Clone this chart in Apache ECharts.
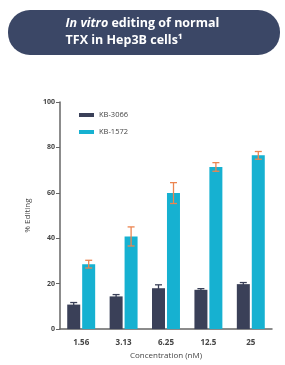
<!DOCTYPE html>
<html>
<head>
<meta charset="utf-8">
<script src="https://cdn.jsdelivr.net/npm/echarts@6/dist/echarts.min.js"></script>
<style>
  html, body { margin: 0; padding: 0; background: #fff; }
  #chart { width: 285px; height: 365px; }
</style>
</head>
<body>
<div id="chart"></div>
<script>
var categories = ['1.56', '3.13', '6.25', '12.5', '25']
var seriesNames = ['KB-3066', 'KB-1572']
var kb3066 = [10.8, 14.4, 18.0, 17.3, 19.8]
var kb3066Err = [0.9, 0.8, 1.5, 0.5, 0.7]
var kb1572 = [28.6, 40.8, 59.9, 71.4, 76.5]
var kb1572Err = [1.7, 4.2, 4.6, 1.9, 1.7]
var yTicks = [0, 20, 40, 60, 80, 100]

var chart = echarts.init(document.getElementById('chart'))

function errorSeries (values, errs, offset, color) {
  return {
    type: 'custom',
    z: 5,
    silent: true,
    data: values.map(function (v, i) { return [i, v, errs[i]] }),
    renderItem: function (params, api) {
      var i = api.value(0)
      var v = api.value(1)
      var e = api.value(2)
      var top = api.coord([i, v + e])
      var bot = api.coord([i, v - e])
      var x = top[0] + offset
      var cap = 3.5
      var style = { stroke: color, lineWidth: 1.3 }
      return {
        type: 'group',
        children: [
          { type: 'line', shape: { x1: x, y1: top[1], x2: x, y2: bot[1] }, style: style },
          { type: 'line', shape: { x1: x - cap, y1: top[1], x2: x + cap, y2: top[1] }, style: style },
          { type: 'line', shape: { x1: x - cap, y1: bot[1], x2: x + cap, y2: bot[1] }, style: style }
        ]
      }
    }
  }
}

var option = {
  animation: false,
  color: ['#3a4058', '#16b1d1'],
  textStyle: { fontFamily: 'Open Sans' },
  graphic: [
    {
      type: 'rect',
      shape: { x: 8, y: 10, width: 272, height: 45, r: 22 },
      style: { fill: '#3b4766' }
    },
    {
      type: 'text',
      left: 'center',
      top: 15,
      style: {
        text: '{i|In vitro} editing of normal\nTFX in Hep3B cells¹',
        fill: '#fff',
        font: 'bold 12.5px "Open Sans"',
        lineHeight: 17,
        align: 'center',
        rich: {
          i: { fontStyle: 'italic', fontWeight: 'bold', fontSize: 12.5, fill: '#fff', fontFamily: 'Open Sans' }
        }
      }
    }
  ],
  legend: {
    data: seriesNames,
    orient: 'vertical',
    left: 74,
    top: 106,
    itemWidth: 15,
    itemHeight: 4,
    itemGap: 9,
    icon: 'rect',
    textStyle: { fontSize: 7.5, color: '#444' }
  },
  grid: { left: 60, right: 13, top: 102, bottom: 32 },
  xAxis: {
    type: 'category',
    data: categories,
    name: 'Concentration (nM)',
    nameLocation: 'middle',
    nameGap: 22,
    nameTextStyle: { fontSize: 8, color: '#444' },
    axisLine: { lineStyle: { color: '#666', width: 1.5 } },
    axisTick: { show: false },
    axisLabel: { fontSize: 8, color: '#444', fontWeight: 'bold', margin: 10 }
  },
  yAxis: {
    type: 'value',
    min: 0,
    max: 100,
    interval: 20,
    name: '% Editing',
    nameLocation: 'middle',
    nameGap: 27,
    nameTextStyle: { fontSize: 8, color: '#444' },
    axisLine: { show: true, lineStyle: { color: '#666', width: 1.5 } },
    axisTick: { show: true, length: 4, lineStyle: { color: '#666' } },
    axisLabel: {
      fontSize: 7, color: '#444', fontWeight: 'bold', margin: 5,
      formatter: function (v) { return yTicks.indexOf(v) >= 0 ? String(v) : '' }
    },
    splitLine: { show: false }
  },
  series: [
    { name: seriesNames[0], type: 'bar', data: kb3066, barWidth: 13, barGap: '15%' },
    { name: seriesNames[1], type: 'bar', data: kb1572, barWidth: 13, barGap: '15%' },
    errorSeries(kb3066, kb3066Err, -7.5, '#3a4058'),
    errorSeries(kb1572, kb1572Err, 7.5, '#ec8550')
  ]
}
chart.setOption(option)
</script>
</body>
</html>
